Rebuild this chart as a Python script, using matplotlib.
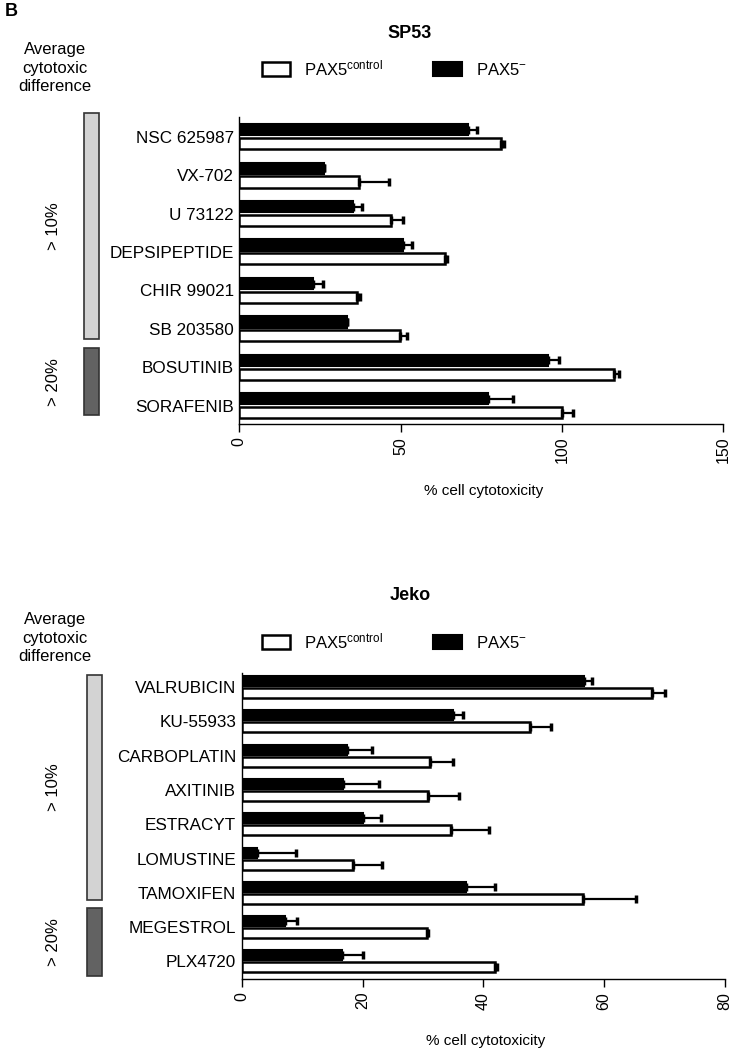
import numpy as np
import matplotlib.pyplot as plt
from matplotlib.patches import Rectangle, Patch
from matplotlib.transforms import blended_transform_factory

plt.rcParams['font.family'] = ['Liberation Sans', 'DejaVu Sans']
plt.rcParams['mathtext.fontset'] = 'custom'
plt.rcParams['mathtext.rm'] = 'Liberation Sans'
plt.rcParams['mathtext.it'] = 'Liberation Sans'

# --- SP53 data ---
sp53_drugs = ["NSC 625987", "VX-702", "U 73122", "DEPSIPEPTIDE",
              "CHIR 99021", "SB 203580", "BOSUTINIB", "SORAFENIB"]
sp53_ctrl = [81.0, 37.2, 47.0, 63.7, 36.4, 49.8, 116.1, 99.9]
sp53_ctrl_err = [1.0, 9.2, 3.8, 0.8, 1.0, 2.1, 1.7, 3.4]
sp53_kd = [70.9, 26.2, 35.3, 50.6, 22.9, 33.5, 95.8, 77.2]
sp53_kd_err = [2.7, 0.0, 2.8, 2.8, 2.9, 0.0, 3.2, 7.5]
sp53_tiers = [("> 10%", 0, 5), ("> 20%", 6, 7)]

# --- Jeko data ---
jeko_drugs = ["VALRUBICIN", "KU-55933", "CARBOPLATIN", "AXITINIB", "ESTRACYT",
              "LOMUSTINE", "TAMOXIFEN", "MEGESTROL", "PLX4720"]
jeko_ctrl = [67.9, 47.8, 31.2, 30.9, 34.6, 18.4, 56.5, 30.6, 41.9]
jeko_ctrl_err = [2.2, 3.4, 3.8, 5.0, 6.4, 4.8, 8.8, 0.3, 0.3]
jeko_kd = [56.7, 35.0, 17.5, 16.8, 20.1, 2.5, 37.1, 7.2, 16.6]
jeko_kd_err = [1.3, 1.7, 4.1, 6.0, 2.9, 6.5, 4.9, 1.9, 3.5]
jeko_tiers = [("> 10%", 0, 6), ("> 20%", 7, 8)]

W, H = 731, 1050
fig = plt.figure(figsize=(W / 100, H / 100), dpi=100)


def draw_panel(rect, title, drugs, ctrl, ctrl_err, kd, kd_err, xmax, xstep,
               ylim, off, tiers, tier_pad, bar_x, title_y, legend_y, avg_y, label_y):
    ax = fig.add_axes(rect)
    y = np.arange(len(drugs))
    h = 0.29
    ekw = dict(ecolor="black", elinewidth=1.6, capsize=3, capthick=2.5)
    ax.barh(y - off, kd, height=h, color="black", edgecolor="black", linewidth=1.5,
            xerr=[np.zeros(len(kd)), kd_err], error_kw=ekw, zorder=3)
    ax.barh(y + off, ctrl, height=h, color="white", edgecolor="black", linewidth=1.8,
            xerr=[np.zeros(len(ctrl)), ctrl_err], error_kw=ekw, zorder=3)
    ax.set_yticks(y)
    ax.set_yticklabels(drugs, fontsize=12.3)
    ax.set_ylim(ylim)
    ax.set_xlim(0, xmax)
    ax.set_xticks(np.arange(0, xmax + 1, xstep))
    ax.tick_params(axis="y", length=0, pad=4)
    ax.tick_params(axis="x", length=6, width=1, labelsize=11.5, labelrotation=90, pad=3)
    for s in ["top", "right"]:
        ax.spines[s].set_visible(False)
    ax.spines["left"].set_linewidth(1)
    ax.spines["bottom"].set_linewidth(1)
    ax.set_xlabel("% cell cytotoxicity", fontsize=11)
    ax.xaxis.set_label_coords(0.505, label_y)

    fig.text(410 / W, title_y, title, fontsize=13,
             fontweight="bold", ha="center", va="center")
    fig.text(55 / W, avg_y, "Average\ncytotoxic\ndifference", fontsize=12,
             ha="center", va="center", linespacing=1.3)

    handles = [Patch(facecolor="white", edgecolor="black", linewidth=1.8),
               Patch(facecolor="black", edgecolor="black", linewidth=1.5)]
    fig.legend(handles, ["PAX5$^{\\mathrm{control}}$", "PAX5$^{-}$"], ncol=2,
               loc="center left", bbox_to_anchor=(262 / W, legend_y), frameon=False,
               fontsize=12, handlelength=1.7, handleheight=0.95, borderpad=0,
               borderaxespad=0, columnspacing=3.0, handletextpad=0.85)

    tr = blended_transform_factory(fig.transFigure, ax.transData)
    colors = ["#d3d3d3", "#626262"]
    for i, (lab, a, b) in enumerate(tiers):
        y0 = a + tier_pad[i][0]
        y1 = b + tier_pad[i][1]
        ax.add_artist(Rectangle((bar_x, y0), 0.02, y1 - y0, transform=tr,
                                facecolor=colors[i], edgecolor="#333333",
                                linewidth=1.2, clip_on=False))
        fig.text(0.073, 0, lab, fontsize=12, rotation=90, ha="center", va="center",
                 transform=tr).set_y((y0 + y1) / 2)
    return ax


draw_panel([239.3 / W, 1 - 424.3 / H, 484 / W, 307.3 / H], "SP53",
           sp53_drugs, sp53_ctrl, sp53_ctrl_err, sp53_kd, sp53_kd_err,
           150, 50, (7.48, -0.51), 0.18, sp53_tiers,
           [(-0.61, 0.25), (-0.5, 0.25)], 84 / W,
           1 - 33 / H, 1 - 68 / H, 1 - 68 / H, -0.195)

draw_panel([241.7 / W, 1 - 979.3 / H, 483.3 / W, 306.3 / H], "Jeko",
           jeko_drugs, jeko_ctrl, jeko_ctrl_err, jeko_kd, jeko_kd_err,
           80, 20, (8.52, -0.41), 0.175, jeko_tiers,
           [(-0.35, 0.21), (-0.56, 0.42)], 87 / W,
           1 - 596 / H, 1 - 641 / H, 1 - 638 / H, -0.18)

fig.text(0.006, 1 - 11 / H, "B", fontsize=13, fontweight="bold", ha="left", va="center")

fig.savefig("out.png", dpi=100)
